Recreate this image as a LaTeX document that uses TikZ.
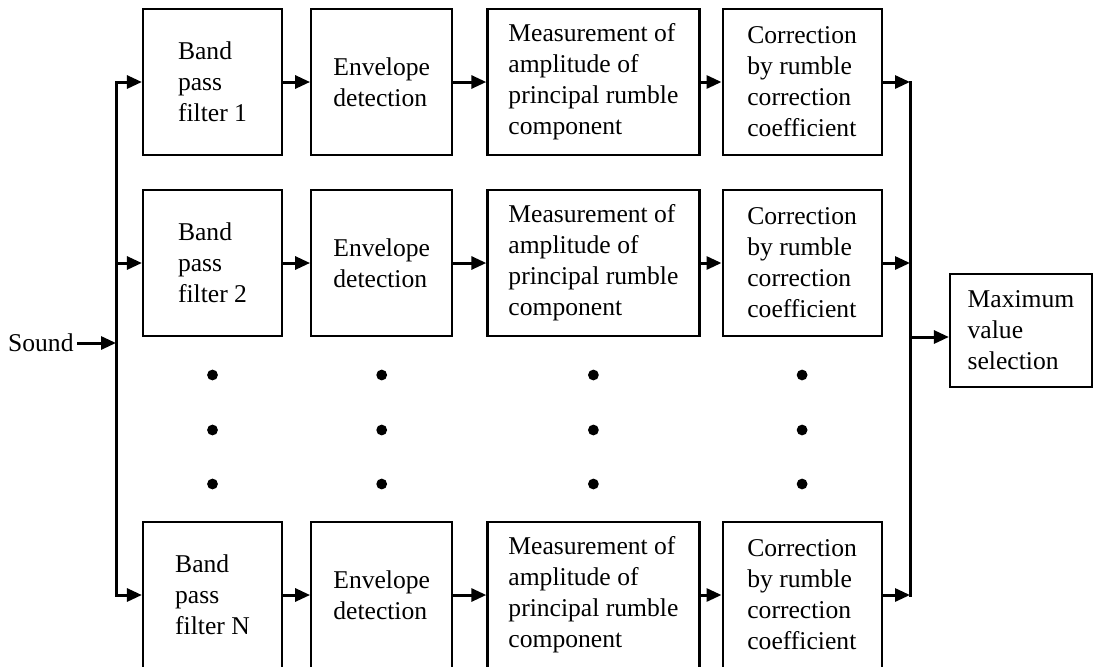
\documentclass[tikz,border=0pt]{standalone}
\usepackage{fontspec}
\setmainfont{Liberation Serif}
\usetikzlibrary{arrows.meta,positioning}
\tikzset{
  blk/.style={draw,line width=1.1pt,align=left,font=\fontsize{12.8}{15.5}\selectfont,inner sep=0pt,minimum height=73pt},
  blkband/.style={blk,minimum width=69.5pt},
  blkenv/.style={blk,minimum width=70.5pt},
  blkmeas/.style={blk,minimum width=106pt},
  blkcorr/.style={blk,minimum width=79.5pt},
  blkmax/.style={blk,minimum width=71pt,minimum height=56.5pt},
  flow/.style={-{Triangle[length=7.5pt,width=6.5pt]},line width=1.5pt},
  busline/.style={line width=1.5pt,line cap=rect},
  label/.style={font=\fontsize{12.8}{15.5}\selectfont,inner sep=1.5pt},
}

\begin{document}
\begin{tikzpicture}[x=0.5pt,y=-0.5pt,node distance=0pt]
  \useasboundingbox (0,0) rectangle (1094,666);
  % one row per band
  \foreach \r/\y in {1/82,2/263,N/595}{
    \node[blkband] (band\r) at (212.5,\y) {Band\\pass\\filter \r};
    \node[blkenv,right=13.5pt of band\r] (env\r) {Envelope\\detection};
    \node[blkmeas,right=16.5pt of env\r] (meas\r) {Measurement of\\amplitude of\\principal rumble\\component};
    \node[blkcorr,right=10.5pt of meas\r] (corr\r) {Correction\\by rumble\\correction\\coefficient};
    \coordinate (in\r) at (116,\y);
    \coordinate (out\r) at (910,\y);
    \draw[flow] (in\r) -- (band\r);
    \draw[flow] (band\r) -- (env\r);
    \draw[flow] (env\r) -- (meas\r);
    \draw[flow] (meas\r) -- (corr\r);
    \draw[flow] (corr\r) -- (out\r);
  }
  \draw[busline] (in1) -- (inN);
  \draw[busline] (out1) -- (outN);
  % input and output
  \node[label,anchor=east] (sound) at (77,343) {Sound};
  \coordinate (inmid) at (116,343);
  \draw[flow] (sound) -- (inmid);
  \node[blkmax] (maxsel) at (1021,330.5) {Maximum\\value\\selection};
  \coordinate (outmid) at (910,337);
  \draw[flow] (outmid) -- (maxsel.west |- outmid);
  % dots between rows
  \foreach \c in {band,env,meas,corr}
    \foreach \y in {375,430,484}
      \fill (\c2 |- 0,\y) circle (2.7pt);
\end{tikzpicture}
\end{document}
